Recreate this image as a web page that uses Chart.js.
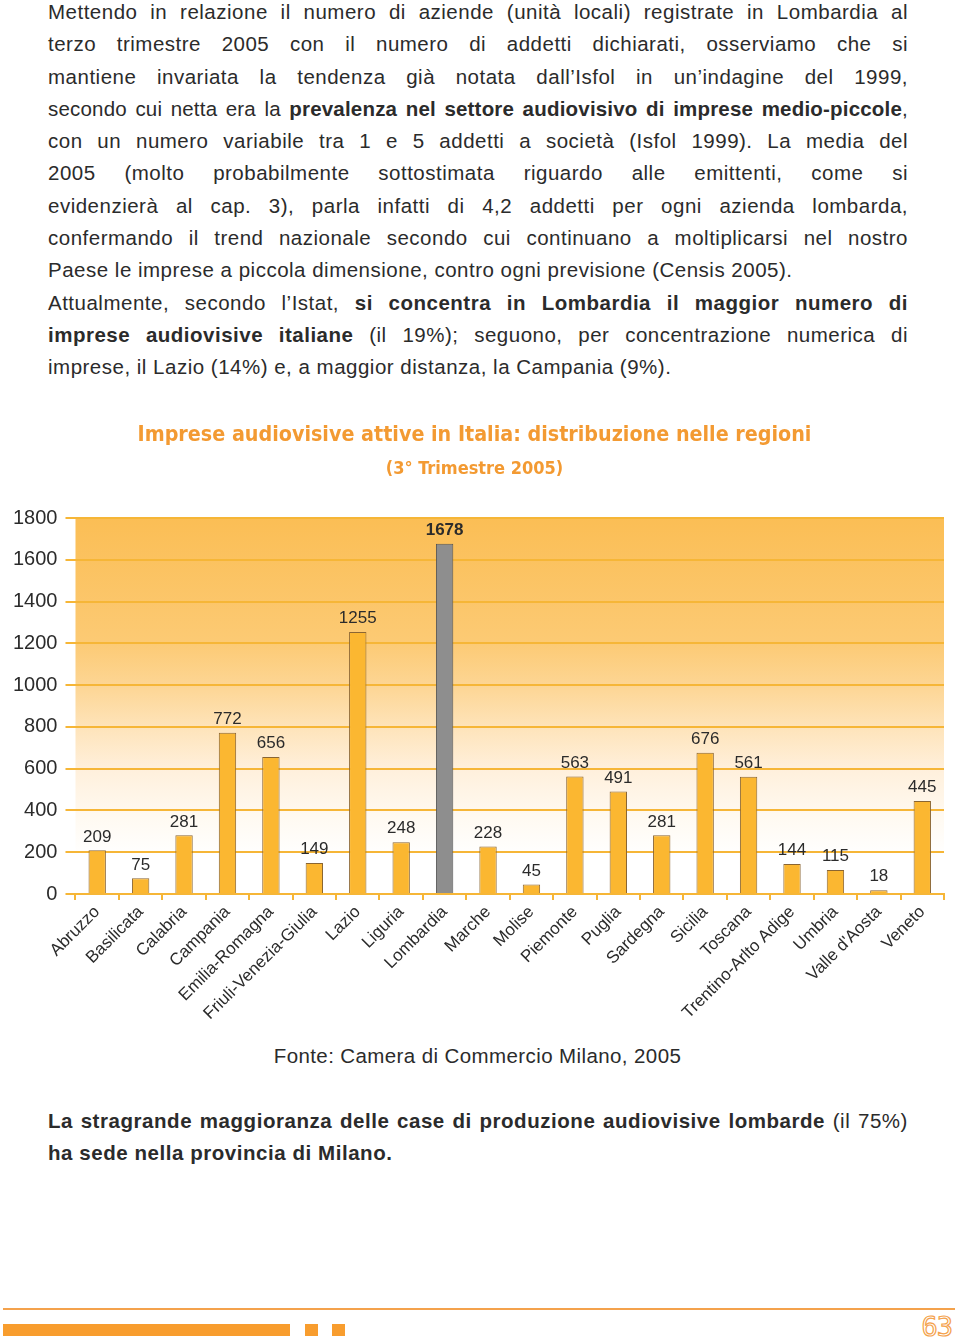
<!DOCTYPE html>
<html lang="it">
<head>
<meta charset="utf-8">
<script src="https://cdn.jsdelivr.net/npm/chart.js@4"></script>
<style>
  html, body { margin: 0; padding: 0; background: #fff; }
  body { width: 960px; height: 1341px; position: relative; overflow: hidden;
         font-family: "Liberation Sans", Arial, sans-serif; color: #2b2b2b; }
  .txt { position: absolute; left: 48px; width: 860px; font-size: 20.5px; line-height: 32.3px; letter-spacing: 0.5px; }
  .txt div { white-space: nowrap; text-align: justify; text-align-last: justify; }
  .txt div.last { text-align-last: left; }
  .txt b { font-weight: bold; }
  #wrap { position: absolute; left: 0; top: 404px; width: 960px; height: 622px; }
  #fonte { position: absolute; top: 1044px; left: 0; width: 955px; text-align: center; font-size: 20.5px; letter-spacing: 0.4px; }
  .rule { position: absolute; left: 3px; top: 1308px; width: 952px; height: 2px; background: #f4a24c; }
  .blk { position: absolute; top: 1324px; height: 12px; background: #f89d2e; }
  #page { position: absolute; right: 8px; top: 1311px; font-size: 27px; font-family: "DejaVu Sans Mono", monospace;
          color: transparent; -webkit-text-stroke: 1.2px #f4a24c; letter-spacing: -1px; }
</style>
</head>
<body>
<div class="txt" style="top:-4px">
  <div>Mettendo in relazione il numero di aziende (unità locali) registrate in Lombardia al</div>
  <div>terzo trimestre 2005 con il numero di addetti dichiarati, osserviamo che si</div>
  <div>mantiene invariata la tendenza già notata dall’Isfol in un’indagine del 1999,</div>
  <div style="letter-spacing:0.2px">secondo cui netta era la <b>prevalenza nel settore audiovisivo di imprese medio-piccole</b>,</div>
  <div>con un numero variabile tra 1 e 5 addetti a società (Isfol 1999). La media del</div>
  <div>2005 (molto probabilmente sottostimata riguardo alle emittenti, come si</div>
  <div>evidenzierà al cap. 3), parla infatti di 4,2 addetti per ogni azienda lombarda,</div>
  <div>confermando il trend nazionale secondo cui continuano a moltiplicarsi nel nostro</div>
  <div class="last">Paese le imprese a piccola dimensione, contro ogni previsione (Censis 2005).</div>
  <div>Attualmente, secondo l’Istat, <b>si concentra in Lombardia il maggior numero di</b></div>
  <div><b>imprese audiovisive italiane</b> (il 19%); seguono, per concentrazione numerica di</div>
  <div class="last">imprese, il Lazio (14%) e, a maggior distanza, la Campania (9%).</div>
</div>

<div id="wrap"><canvas id="barChart"></canvas></div>
<div id="fonte">Fonte: Camera di Commercio Milano, 2005</div>

<div class="txt" style="top:1105px; letter-spacing:0.55px">
  <div><b>La stragrande maggioranza delle case di produzione audiovisive lombarde</b> (il 75%)</div>
  <div class="last"><b>ha sede nella provincia di Milano.</b></div>
</div>

<div class="rule"></div>
<div class="blk" style="left:3px;width:287px"></div>
<div class="blk" style="left:305px;width:13px"></div>
<div class="blk" style="left:332px;width:13px"></div>
<div id="page">63</div>

<script>
// dati
const regioni = ['Abruzzo', 'Basilicata', 'Calabria', 'Campania', 'Emilia-Romagna',
  'Friuli-Venezia-Giulia', 'Lazio', 'Liguria', 'Lombardia', 'Marche', 'Molise',
  'Piemonte', 'Puglia', 'Sardegna', 'Sicilia', 'Toscana', 'Trentino-Arlto Adige',
  'Umbria', "Valle d'Aosta", 'Veneto'];
const imprese = [209, 75, 281, 772, 656, 149, 1255, 248, 1678, 228, 45,
  563, 491, 281, 676, 561, 144, 115, 18, 445];
const evidenza = 'Lombardia';
const yTicks = [0, 200, 400, 600, 800, 1000, 1200, 1400, 1600, 1800];

const arancio = '#f6b637';
const testo = '#2b2b2b';
const fontTesto = '"Liberation Sans", Arial, sans-serif';
const fontTitolo = '"Liberation Sans Narrow", "DejaVu Sans Condensed", sans-serif';

document.addEventListener('DOMContentLoaded', function () {
    const canvas = document.getElementById('barChart');

    // sfondo sfumato dell'area del grafico
    const sfondo = {
        id: 'sfondo',
        beforeDraw(chart) {
            const { ctx, chartArea: a } = chart;
            const g = ctx.createLinearGradient(0, a.top, 0, a.bottom);
            g.addColorStop(0, '#fbbe55');
            g.addColorStop(0.33, '#fcca74');
            g.addColorStop(0.45, '#fdd695');
            g.addColorStop(0.56, '#fee4bb');
            g.addColorStop(0.67, '#fff0dc');
            g.addColorStop(0.8, '#fffaf2');
            g.addColorStop(0.9, '#ffffff');
            ctx.save();
            ctx.fillStyle = g;
            ctx.fillRect(a.left, a.top, a.right - a.left, a.bottom - a.top);
            ctx.restore();
        }
    };

    // etichette dei valori sopra le barre
    const valori = {
        id: 'valori',
        afterDatasetsDraw(chart) {
            const ctx = chart.ctx;
            const meta = chart.getDatasetMeta(0);
            ctx.save();
            ctx.fillStyle = testo;
            ctx.textAlign = 'center';
            ctx.textBaseline = 'bottom';
            meta.data.forEach((bar, i) => {
                const bold = regioni[i] === evidenza;
                ctx.font = (bold ? 'bold ' : '') + '17px ' + fontTesto;
                ctx.fillText(imprese[i], bar.x, bar.y - 5);
            });
            ctx.restore();
        }
    };

    new Chart(canvas, {
        type: 'bar',
        data: {
            labels: regioni,
            datasets: [{
                data: imprese,
                backgroundColor: regioni.map(r => r === evidenza ? '#8e8e8e' : '#fbb731'),
                borderColor: regioni.map(r => r === evidenza ? '#555555' : '#8a6532'),
                borderWidth: 1,
                barPercentage: 0.4,
                categoryPercentage: 1
            }]
        },
        options: {
            responsive: true,
            maintainAspectRatio: false,
            animation: false,
            layout: { padding: { left: 5, right: 16, top: 0, bottom: 0 } },
            plugins: {
                legend: { display: false },
                tooltip: { enabled: false },
                title: {
                    display: true,
                    text: 'Imprese audiovisive attive in Italia: distribuzione nelle regioni',
                    color: '#f39a32',
                    font: { family: fontTitolo, size: 21.3, weight: 'bold' },
                    padding: { top: 19, bottom: 4 }
                },
                subtitle: {
                    display: true,
                    text: '(3° Trimestre 2005)',
                    color: '#f39a32',
                    font: { family: fontTitolo, size: 18, weight: 'bold' },
                    padding: { top: 6, bottom: 38 }
                }
            },
            scales: {
                x: {
                    grid: {
                        offset: true,
                        drawOnChartArea: false,
                        color: arancio,
                        lineWidth: 2,
                        tickLength: 6
                    },
                    border: { color: arancio, width: 2 },
                    ticks: {
                        color: testo,
                        font: { family: fontTesto, size: 17 },
                        maxRotation: 45,
                        minRotation: 45,
                        autoSkip: false,
                        padding: 2
                    }
                },
                y: {
                    min: 0,
                    max: 1800,
                    afterBuildTicks: axis => { axis.ticks = yTicks.map(v => ({ value: v })); },
                    grid: { color: arancio, lineWidth: 2, tickLength: 10 },
                    border: { display: false },
                    ticks: {
                        color: testo,
                        font: { family: fontTesto, size: 20 },
                        padding: 8,
                        callback: v => String(v)
                    }
                }
            }
        },
        plugins: [sfondo, valori]
    });
});
</script>
</body>
</html>
